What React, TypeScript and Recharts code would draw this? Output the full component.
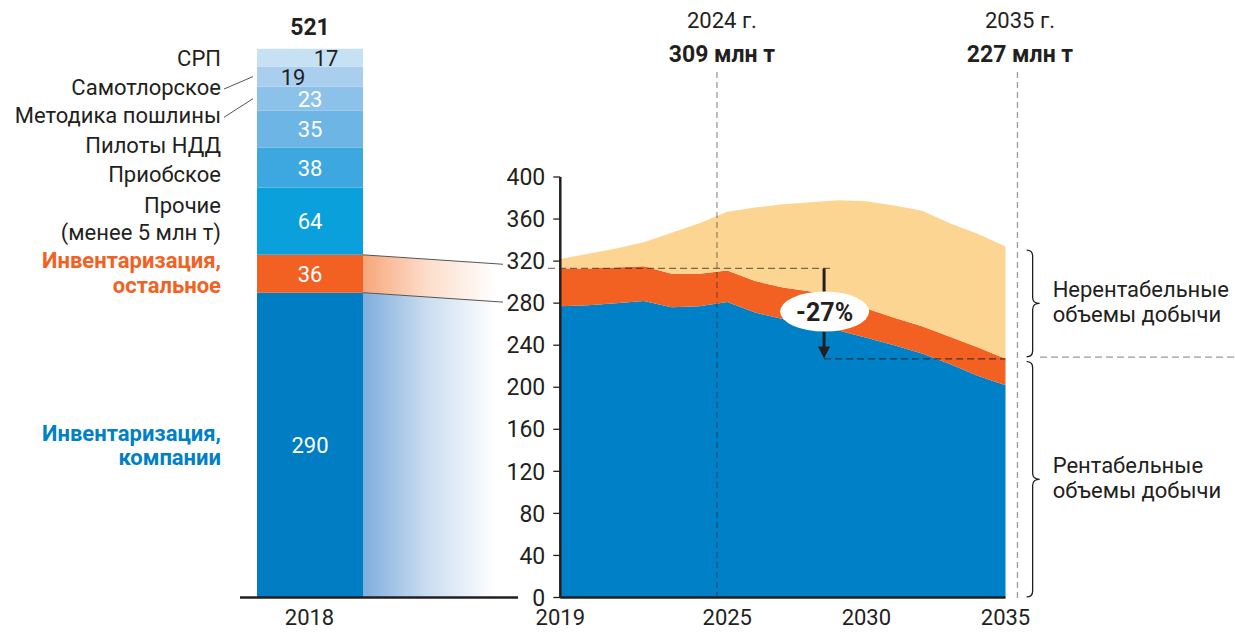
import React from "react";
import {
  BarChart,
  Bar,
  AreaChart,
  Area,
  XAxis,
  YAxis,
  LabelList,
  ReferenceLine,
  ReferenceDot,
} from "recharts";

const W = 1235;
const H = 634;
const PLOT_TOP = 177;
const PLOT_BOTTOM = 597.5;
const Y_MAX = 400;
const PX_PER_UNIT = (PLOT_BOTTOM - PLOT_TOP) / Y_MAX;
const BAR_Y_MAX = 540;
const LEFT_X0 = 240;
const LEFT_X1 = 518;
const BAR_W = 106;
const AREA_X0 = 560.3;
const AREA_X1 = 1005.5;

const INK = "#231F20";
const BLUE = "#0080C6";
const ORANGE = "#F26122";
const SAND = "#FDD593";
const FONT = "Roboto, 'Noto Sans', sans-serif";

// 2018 bar
const barCategories = ["2018", ""];
const segmentKeys = ["companies", "invOther", "other", "priob", "ndd", "duty", "samotlor", "srp"];
const segmentLabels = [
  ["Инвентаризация,", "компании"],
  ["Инвентаризация,", "остальное"],
  ["Прочие", "(менее 5 млн т)"],
  ["Приобское"],
  ["Пилоты НДД"],
  ["Методика пошлины"],
  ["Самотлорское"],
  ["СРП"],
];
const segmentValues = [290, 36, 64, 38, 35, 23, 19, 17];
const barTotal = 521;

// forecast 2019-2035
const years = [2019, 2020, 2021, 2022, 2023, 2024, 2025, 2026, 2027, 2028, 2029, 2030, 2031, 2032, 2033, 2034, 2035];
const profitable = [277, 278, 280, 282, 276, 277, 281, 271, 265, 260, 254, 247, 240, 232, 222, 211, 202];
const inventoryOther = [36, 35, 34, 33, 32, 31, 30, 30, 30, 31, 29, 28, 26, 26, 26, 27, 25];
const unprofitable = [9, 14, 18, 23, 39, 48, 56, 70, 79, 85, 95, 102, 107, 110, 108, 108, 107];

const xTicks = [2019, 2025, 2030, 2035];
const yTicks = [0, 40, 80, 120, 160, 200, 240, 280, 320, 360, 400];

const segmentStyle = [
  { fill: "#007DC3", text: "#fff", label: BLUE, bold: true, shift: 0.4, lh: 24, dx: 0, leader: false },
  { fill: ORANGE, text: "#fff", label: ORANGE, bold: true, shift: -0.9, lh: 25, dx: 0, leader: false },
  { fill: "#0AA0DC", text: "#fff", label: INK, bold: false, shift: -2.2, lh: 27, dx: 0, leader: false },
  { fill: "#3DA8DF", text: "#fff", label: INK, bold: false, shift: 6.2, lh: 25, dx: 0, leader: false },
  { fill: "#6DB5E4", text: "#fff", label: INK, bold: false, shift: 16.1, lh: 25, dx: 0, leader: false },
  { fill: "#8CC2E9", text: "#fff", label: INK, bold: false, shift: 16.6, lh: 25, dx: 0, leader: true },
  { fill: "#AACFEE", text: INK, label: INK, bold: false, shift: 10.4, lh: 25, dx: -17, leader: true },
  { fill: "#C7E1F4", text: INK, label: INK, bold: false, shift: 0, lh: 25, dx: 16, leader: false },
];

const barRow: Record<string, any> = { category: barCategories[0] };
segmentKeys.forEach((k, i) => (barRow[k] = segmentValues[i]));
const barRows = [barRow, { category: barCategories[1] }];

const forecastRows = years.map((year, i) => ({
  year,
  profitable: profitable[i],
  inventoryOther: inventoryOther[i],
  unprofitable: unprofitable[i],
}));

const yPx = (v: number) => PLOT_BOTTOM - v * PX_PER_UNIT;

function rectOf(p: any) {
  const vb = p.viewBox || {};
  return {
    x: p.x ?? vb.x,
    y: p.y ?? vb.y,
    width: p.width ?? vb.width,
    height: p.height ?? vb.height,
  };
}

const valueLabel = (i: number) => (p: any) => {
  const { x, y, width, height } = rectOf(p);
  if (!(height > 0)) return null;
  const st = segmentStyle[i];
  return (
    <text x={x + width / 2 + st.dx} y={y + height / 2 + 8} textAnchor="middle" fontSize={22} fill={st.text}>
      {segmentValues[i]}
    </text>
  );
};

const sideLabel = (i: number) => (p: any) => {
  const { x, y, width, height } = rectOf(p);
  if (!(height > 0)) return null;
  const st = segmentStyle[i];
  const lines = segmentLabels[i];
  const cy = y + height / 2;
  const first = cy + 8 + st.shift - ((lines.length - 1) * st.lh) / 2;
  return (
    <g>
      {lines.map((l, k) => (
        <text
          key={k}
          x={x - 36}
          y={first + k * st.lh}
          textAnchor="end"
          fontSize={22}
          fontWeight={st.bold ? 700 : 400}
          fill={st.label}
        >
          {l}
        </text>
      ))}
      {st.leader && <line x1={x - 33} y1={first - 6} x2={x - 4} y2={cy} stroke="#555" strokeWidth={1} />}
      {i === segmentKeys.length - 1 && (
        <text x={x + width / 2} y={y - 13.7} textAnchor="middle" fontSize={23} fontWeight={700} fill={INK}>
          {barTotal}
        </text>
      )}
    </g>
  );
};

const vMark = (top: string, bottom: string, dx: number) => (p: any) => {
  const yTop = Math.min(p.y1, p.y2);
  const yBot = Math.max(p.y1, p.y2);
  return (
    <g>
      <line x1={p.x1} x2={p.x1} y1={yTop} y2={yBot} stroke="rgba(35,31,32,0.45)" strokeWidth={1.3} strokeDasharray="6 4" />
      <text x={p.x1 + dx} y={yTop - 43.6} textAnchor="middle" fontSize={22} fill={INK}>
        {top}
      </text>
      <text x={p.x1 + dx} y={yTop - 10.2} textAnchor="middle" fontSize={23} fontWeight={700} fill={INK}>
        {bottom}
      </text>
    </g>
  );
};

const arrow = (p: any) => {
  const x = p.x1;
  const yA = Math.min(p.y1, p.y2);
  const yB = Math.max(p.y1, p.y2);
  return (
    <g>
      <line x1={x} x2={x} y1={yA} y2={yB - 11} stroke={INK} strokeWidth={3} />
      <polygon points={`${x - 6},${yB - 12} ${x + 6},${yB - 12} ${x},${yB}`} fill={INK} />
    </g>
  );
};

const brace = (lines: string[]) => (p: any) => {
  const x0 = p.x1;
  const yT = Math.min(p.y1, p.y2);
  const yB = Math.max(p.y1, p.y2);
  const yM = (yT + yB) / 2;
  const d = `M ${x0} ${yT} Q ${x0 + 6} ${yT} ${x0 + 6} ${yT + 6} L ${x0 + 6} ${yM - 6} Q ${x0 + 6} ${yM} ${x0 + 13} ${yM} Q ${x0 + 6} ${yM} ${x0 + 6} ${yM + 6} L ${x0 + 6} ${yB - 6} Q ${x0 + 6} ${yB} ${x0} ${yB}`;
  return (
    <g>
      <path d={d} fill="none" stroke={INK} strokeWidth={1.3} />
      {lines.map((l, k) => (
        <text key={k} x={x0 + 26} y={yM - 6.6 + k * 25} fontSize={22} fill={INK}>
          {l}
        </text>
      ))}
    </g>
  );
};

const oval = (p: any) => (
  <g>
    <ellipse cx={p.cx} cy={p.cy} rx={44.5} ry={20} fill="#fff" />
    <text x={p.cx} y={p.cy + 9} textAnchor="middle" fontSize={25} fontWeight={700} fill={INK}>
      -27%
    </text>
  </g>
);

function Connectors() {
  const band = (LEFT_X1 - LEFT_X0) / barCategories.length;
  const xa = LEFT_X0 + band / 2 + BAR_W / 2;
  const xb = 503;
  const companiesTop = segmentValues[0];
  const otherTop = segmentValues[0] + segmentValues[1];
  return (
    <svg width={W} height={H} style={{ position: "absolute", left: 0, top: 0 }}>
      <defs>
        <linearGradient id="fadeOrange" x1="0" y1="0" x2="1" y2="0">
          <stop offset="0%" stopColor="#F7A679" />
          <stop offset="45%" stopColor="#FCDCC9" />
          <stop offset="95%" stopColor="#FFFFFF" />
        </linearGradient>
        <linearGradient id="fadeBlue" x1="0" y1="0" x2="1" y2="0">
          <stop offset="0%" stopColor="#7DAEDD" />
          <stop offset="45%" stopColor="#C9DCF0" />
          <stop offset="95%" stopColor="#FFFFFF" />
        </linearGradient>
      </defs>
      <polygon
        points={`${xa},${yPx(otherTop)} ${xb},${yPx(317)} ${xb},${yPx(281)} ${xa},${yPx(companiesTop)}`}
        fill="url(#fadeOrange)"
      />
      <polygon
        points={`${xa},${yPx(companiesTop)} ${xb},${yPx(281)} ${xb},${PLOT_BOTTOM} ${xa},${PLOT_BOTTOM}`}
        fill="url(#fadeBlue)"
      />
      <line x1={xa} y1={yPx(otherTop)} x2={xb} y2={yPx(317)} stroke="#555" strokeWidth={1} />
      <line x1={xa} y1={yPx(companiesTop)} x2={xb} y2={yPx(281)} stroke="#555" strokeWidth={1} />
    </svg>
  );
}

export default function App() {
  const axisLine = { stroke: INK, strokeWidth: 2.5 };
  const yTick = { fontSize: 23, fill: INK };
  const xTick = { fontSize: 22, fill: INK };
  return (
    <div style={{ position: "absolute", left: 0, top: 0, width: W, height: H, background: "#fff", fontFamily: FONT }}>
      <Connectors />
      <div style={{ position: "absolute", left: 0, top: 0 }}>
        <BarChart
          width={W}
          height={H}
          data={barRows}
          barSize={BAR_W}
          margin={{ top: PLOT_BOTTOM - BAR_Y_MAX * PX_PER_UNIT, right: W - LEFT_X1, bottom: H - PLOT_BOTTOM - 30, left: LEFT_X0 }}
        >
          <XAxis
            dataKey="category"
            height={30}
            tickLine={false}
            tickSize={7}
            tickMargin={5}
            axisLine={axisLine}
            tick={xTick}
            interval={0}
          />
          <YAxis hide width={0} domain={[0, BAR_Y_MAX]} />
          {segmentKeys.map((k, i) => (
            <Bar key={k} dataKey={k} stackId="b" fill={segmentStyle[i].fill} isAnimationActive={false}>
              <LabelList dataKey={k} content={valueLabel(i)} />
              <LabelList dataKey={k} content={sideLabel(i)} />
            </Bar>
          ))}
        </BarChart>
      </div>
      <div style={{ position: "absolute", left: 0, top: 0 }}>
        <AreaChart
          width={W}
          height={H}
          data={forecastRows}
          margin={{ top: PLOT_TOP, right: W - AREA_X1, bottom: H - PLOT_BOTTOM - 30, left: AREA_X0 - 60 }}
        >
          <XAxis
            type="number"
            dataKey="year"
            domain={[2019, 2035]}
            ticks={xTicks}
            interval={0}
            height={30}
            tickLine={false}
            tickSize={7}
            tickMargin={5}
            axisLine={axisLine}
            tick={xTick}
          />
          <YAxis
            domain={[0, Y_MAX]}
            ticks={yTicks}
            interval={0}
            width={60}
            tickSize={7}
            tickMargin={8}
            tickLine={{ stroke: INK, strokeWidth: 1.3 }}
            axisLine={axisLine}
            tick={yTick}
          />
          <Area dataKey="profitable" stackId="f" type="linear" stroke="none" fill={BLUE} fillOpacity={1} isAnimationActive={false} />
          <Area dataKey="inventoryOther" stackId="f" type="linear" stroke="none" fill={ORANGE} fillOpacity={1} isAnimationActive={false} />
          <Area dataKey="unprofitable" stackId="f" type="linear" stroke="none" fill={SAND} fillOpacity={1} isAnimationActive={false} />

          <ReferenceLine
            ifOverflow="visible"
            segment={[{ x: 2024.63, y: -2 }, { x: 2024.63, y: 500 }]}
            shape={vMark("2024 г.", "309 млн т", 5)}
          />
          <ReferenceLine
            ifOverflow="visible"
            segment={[{ x: 2035.43, y: -2 }, { x: 2035.43, y: 500 }]}
            shape={vMark("2035 г.", "227 млн т", 2.5)}
          />
          <ReferenceLine
            ifOverflow="visible"
            segment={[{ x: 2018.56, y: 313 }, { x: 2028.71, y: 313 }]}
            stroke="rgba(35,31,32,0.6)"
            strokeWidth={1.3}
            strokeDasharray="7 4"
          />
          <ReferenceLine
            ifOverflow="visible"
            segment={[{ x: 2028.48, y: 227 }, { x: 2035, y: 227 }]}
            stroke="rgba(35,31,32,0.75)"
            strokeWidth={1.3}
            strokeDasharray="7 4"
          />
          <ReferenceLine
            ifOverflow="visible"
            segment={[{ x: 2036.24, y: 228.7 }, { x: 2043.3, y: 228.7 }]}
            stroke="#999"
            strokeWidth={1.3}
            strokeDasharray="7 4"
          />
          <ReferenceLine ifOverflow="visible" segment={[{ x: 2028.48, y: 313 }, { x: 2028.48, y: 227.3 }]} shape={arrow} />
          <ReferenceLine
            ifOverflow="visible"
            segment={[{ x: 2035.76, y: 330.5 }, { x: 2035.76, y: 229 }]}
            shape={brace(["Нерентабельные", "объемы добычи"])}
          />
          <ReferenceLine
            ifOverflow="visible"
            segment={[{ x: 2035.76, y: 224.3 }, { x: 2035.76, y: 0.5 }]}
            shape={brace(["Рентабельные", "объемы добычи"])}
          />
          <ReferenceDot x={2028.5} y={272} r={1} ifOverflow="visible" shape={oval} />
        </AreaChart>
      </div>
    </div>
  );
}
